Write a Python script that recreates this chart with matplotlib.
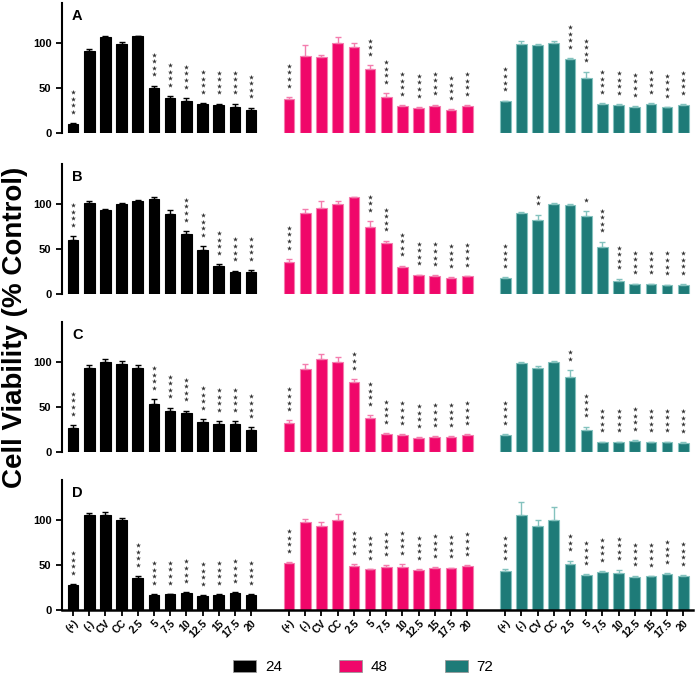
import numpy as np
import matplotlib
matplotlib.use("Agg")
import matplotlib.pyplot as plt
from matplotlib.patches import Patch

plt.rcParams['font.family'] = ['Liberation Sans', 'DejaVu Sans']
plt.rcParams['font.weight'] = 'bold'

labels = ['(+)', '(-)', 'CV', 'CC', '2.5', '5', '7.5', '10', '12.5', '15', '17.5', '20']
hours = ['24', '48', '72']
panels = ['A', 'B', 'C', 'D']

# mean viability, order per panel: 24 h, 48 h, 72 h
vals_A = [[10, 91, 106, 99, 107, 50, 39, 36, 32, 31, 29, 25],
          [38, 85, 84, 100, 95.5, 71, 40, 30, 28, 30, 26, 30],
          [35, 99, 97, 100, 82, 61, 32, 31, 28.5, 32, 28.5, 31]]
vals_B = [[60, 101, 93, 100, 103, 105, 89, 66, 49, 31, 24, 24.5],
          [35, 89.6, 95.6, 99.6, 107, 74.6, 56, 29.4, 21, 20, 18, 19.5],
          [18, 89.6, 82, 100, 99, 86, 52, 14, 11, 11, 10, 10.5]]
vals_C = [[26.6, 93, 100, 98, 93, 53.5, 45.6, 42.8, 33.2, 31.3, 31.3, 24.7],
          [32.4, 92, 103.5, 100, 77, 38, 20.3, 19, 16, 16.7, 17, 19],
          [19, 99, 93, 100, 83, 24, 11, 11, 12, 11, 11, 10.5]]
vals_D = [[28, 105, 105.5, 100, 35, 17, 17.3, 19, 16, 17, 19, 17],
          [52, 97.4, 93, 100, 49, 45, 47.6, 48, 44.7, 46.5, 46.5, 48.7],
          [42.8, 104.8, 92.6, 99.6, 50.6, 38.4, 42, 41, 36.5, 37.3, 40, 38]]

# error (SEM, upper only)
err_A = [[1, 2.5, 2, 1.5, 1, 2.5, 2, 3, 1, 1.5, 3.5, 3],
         [2, 12, 2, 6, 4, 4, 4, 1, 1, 1.5, 0.5, 1],
         [1, 3, 2, 1.5, 1, 7, 1, 1, 1.5, 1, 0.5, 1]]
err_B = [[4, 2, 1, 1, 1, 2, 4, 4, 4, 2, 2, 2],
         [4, 4.5, 7, 3.5, 0.5, 6, 3, 2, 0.5, 0.5, 0.5, 0.5],
         [0.5, 1.5, 6, 1, 1, 6, 6, 3, 0.5, 0.5, 0.5, 0.5]]
err_C = [[3.4, 3, 3, 3, 3, 5, 3.5, 3, 3, 3, 3, 2.5],
         [2.5, 6, 5.5, 5, 4, 3, 0.5, 0.5, 0.3, 0.5, 0.5, 0.5],
         [1, 1, 2, 1, 8, 4, 0.5, 0.5, 1, 0.5, 0.5, 0.5]]
err_D = [[0.5, 3, 3, 2, 2.5, 0.5, 0.5, 0.5, 0.5, 0.5, 0.5, 0.5],
         [1, 3.5, 5, 6, 2, 0.5, 2, 2.6, 0.5, 0.8, 0.5, 0.7],
         [2.5, 15, 7, 14, 4, 1, 1, 3.7, 1.5, 0.5, 1, 0.5]]

# number of significance stars
stars_A = [[4, 0, 0, 0, 0, 4, 4, 4, 4, 4, 4, 4],
           [4, 0, 0, 0, 0, 3, 4, 4, 4, 4, 4, 4],
           [4, 0, 0, 0, 4, 4, 4, 4, 4, 4, 4, 4]]
stars_B = [[4, 0, 0, 0, 0, 0, 0, 4, 4, 4, 4, 4],
           [4, 0, 0, 0, 0, 3, 4, 4, 4, 4, 4, 4],
           [4, 0, 2, 0, 0, 1, 4, 4, 4, 4, 4, 4]]
stars_C = [[4, 0, 0, 0, 0, 4, 4, 4, 4, 4, 4, 4],
           [4, 0, 0, 0, 3, 4, 4, 4, 4, 4, 4, 4],
           [4, 0, 0, 0, 2, 4, 4, 4, 4, 4, 4, 4]]
stars_D = [[4, 0, 0, 0, 4, 4, 4, 4, 4, 4, 4, 4],
           [4, 0, 0, 0, 4, 4, 4, 4, 4, 4, 4, 4],
           [4, 0, 0, 0, 3, 4, 4, 4, 4, 4, 4, 4]]

vals = {'A': vals_A, 'B': vals_B, 'C': vals_C, 'D': vals_D}
errs = {'A': err_A, 'B': err_B, 'C': err_C, 'D': err_D}
stars = {'A': stars_A, 'B': stars_B, 'C': stars_C, 'D': stars_D}

colors = ['#000000', '#F0076A', '#1E7B78']
edges = ['#000000', '#F47DAE', '#84C2BE']

W, H = 696, 676
fig = plt.figure(figsize=(W / 100, H / 100), dpi=100)
bottoms = [133, 294, 452, 610]
gap = 13.35

for i, p in enumerate(panels):
    ax = fig.add_axes([62 / W, 1 - bottoms[i] / H, 631 / W, 130 / H])
    for g in range(3):
        x = np.arange(len(labels)) + g * gap
        v = np.array(vals[p][g])
        e = np.array(errs[p][g])
        ax.bar(x, v, width=0.66, color=colors[g], edgecolor=edges[g],
               linewidth=0.8, zorder=2)
        ax.errorbar(x, v, yerr=[np.zeros(len(v)), e], fmt='none', ecolor=edges[g],
                    elinewidth=1.0, capsize=2.5, capthick=1.0, zorder=3)
        for xi, top, n in zip(x, v + e, stars[p][g]):
            if n:
                ys = top + 12.5 + 7.3 * np.arange(n)
                ax.scatter([xi] * n, ys, marker='*', s=14, color='#333333',
                           linewidths=0, zorder=4)
    ax.set_xlim(-0.68, 38.3)
    ax.set_ylim(0, 144)
    ax.set_yticks([0, 50, 100])
    for s in ['top', 'right']:
        ax.spines[s].set_visible(False)
    ax.spines['left'].set_linewidth(1.5)
    ax.tick_params(axis='y', length=4, width=1.3, labelsize=8)
    ax.text(0.016, 0.9, p, transform=ax.transAxes, fontsize=10.5,
            fontweight='bold', va='center')
    if i < 3:
        ax.spines['bottom'].set_visible(False)
        ax.set_xticks([])
    else:
        ax.spines['bottom'].set_linewidth(1.8)
        ticks = np.concatenate([np.arange(len(labels)) + g * gap for g in range(3)])
        ax.set_xticks(ticks)
        ax.set_xticklabels(labels * 3, rotation=45, ha='right',
                           rotation_mode='anchor', fontsize=7.5)
        ax.tick_params(axis='x', length=4, width=1.3, pad=2)

fig.text(15 / W, 0.516, 'Cell Viability (% Control)', rotation=90,
         ha='center', va='center', fontsize=20, fontweight='bold')

handles = [Patch(facecolor=c, edgecolor='#999999', linewidth=0.6) for c in colors]
fig.legend(handles, hours, loc='center', bbox_to_anchor=(363.5 / W, 0.013),
           ncol=3, frameon=False, handlelength=1.5,
           handleheight=0.85, handletextpad=0.6, columnspacing=3.7,
           prop={'size': 11, 'weight': 'normal'})

fig.savefig('out.png', dpi=100)
